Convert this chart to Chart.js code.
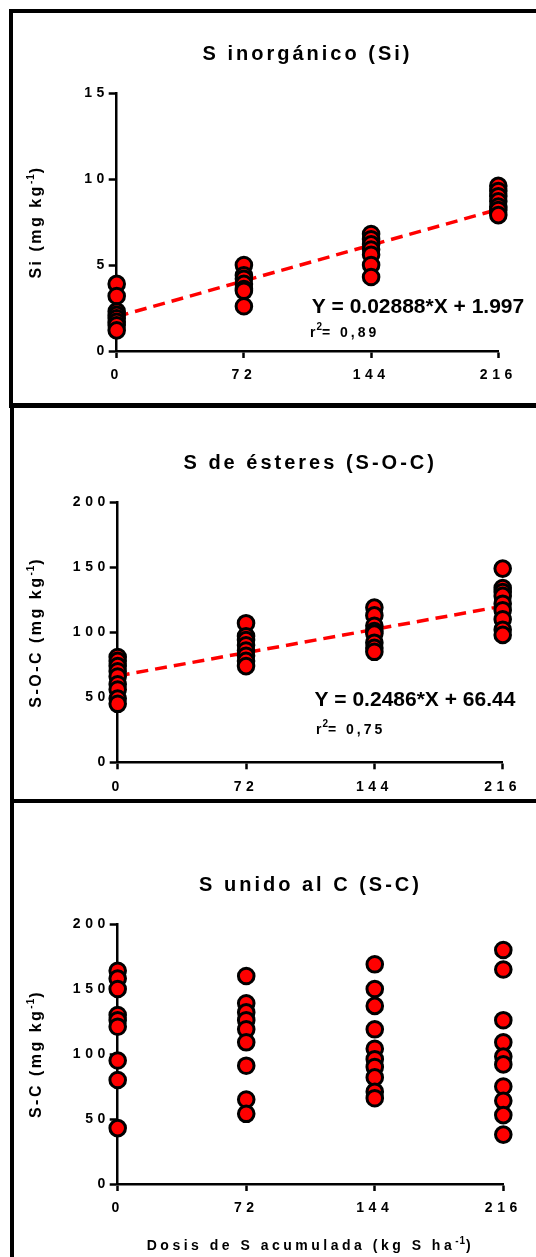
<!DOCTYPE html>
<html><head><meta charset="utf-8">
<script src="https://cdn.jsdelivr.net/npm/chart.js@4.4.0/dist/chart.umd.min.js"></script>
<style>
html,body{margin:0;padding:0;background:#fff;width:536px;height:1257px;overflow:hidden;position:relative}
.box{position:absolute;border:4px solid #000;box-sizing:border-box}
canvas{position:absolute;left:0}
</style></head><body>
<div class="box" style="left:9px;top:9px;width:600px;height:399px"></div>
<div class="box" style="left:10px;top:403px;width:600px;height:400px"></div>
<div class="box" style="left:10px;top:799px;width:600px;height:500px"></div>
<canvas id="c1" width="536" height="403" style="top:0"></canvas>
<canvas id="c2" width="536" height="397" style="top:403px"></canvas>
<canvas id="c3" width="536" height="457" style="top:800px"></canvas>
<script>
// ---- data ----
const doses = [0, 72, 144, 216];
const doseTicks = [0, 72, 144, 216];

const siTicks = [0, 5, 10, 15];
const si_0   = [3.9, 3.2, 2.3, 2.1, 1.9, 1.7, 1.5, 1.2];
const si_72  = [5.0, 4.4, 4.2, 3.9, 3.6, 3.5, 2.6];
const si_144 = [6.8, 6.5, 6.2, 5.9, 5.6, 5.0, 4.3];
const si_216 = [9.6, 9.3, 9.0, 8.7, 8.4, 8.2, 7.9];
const siSlope = 0.02888, siIntercept = 1.997;

const socTicks = [0, 50, 100, 150, 200];
const soc_0   = [81, 78, 74, 70, 66, 60, 56, 49, 45];
const soc_72  = [107, 97, 94, 90, 86, 82, 78, 74];
const soc_144 = [119, 113, 105, 101, 99, 92, 88, 85];
const soc_216 = [149, 134, 131, 128, 122, 117, 110, 102, 98];
const socSlope = 0.2486, socIntercept = 66.44;

const scTicks = [0, 50, 100, 150, 200];
const sc_0   = [164, 158, 150, 130, 126, 121, 95, 80, 43];
const sc_72  = [160, 139, 132, 126, 119, 109, 91, 65, 54];
const sc_144 = [169, 150, 137, 119, 104, 96, 90, 82, 71, 66];
const sc_216 = [180, 165, 126, 109, 98, 92, 75, 64, 53, 38];

// ---- style ----
const FONT = "'Liberation Sans', Arial, Helvetica, sans-serif";
const TICK_LS = 4.5;

function toPoints(groups) {
  const pts = [];
  groups.forEach((vals, i) => vals.forEach(v => pts.push({x: doses[i], y: v})));
  return pts;
}

function drawParts(ctx, parts, x, y, align) {
  let total = 0;
  parts.forEach(p => {
    ctx.font = 'bold ' + p.size + 'px ' + FONT;
    ctx.letterSpacing = (p.ls || 0) + 'px';
    p.w = ctx.measureText(p.t).width;
    total += p.w;
  });
  let cx = align === 'center' ? x - total / 2 : x;
  parts.forEach(p => {
    ctx.font = 'bold ' + p.size + 'px ' + FONT;
    ctx.letterSpacing = (p.ls || 0) + 'px';
    ctx.fillText(p.t, cx, y + (p.dy || 0));
    cx += p.w;
  });
}

function makeChart(id, cfg) {
  const textPlugin = {
    id: 'texts',
    beforeDraw(chart) { chart.ctx.letterSpacing = TICK_LS + 'px'; },
    afterDraw(chart) {
      const ctx = chart.ctx, a = chart.chartArea;
      ctx.save();
      ctx.fillStyle = '#000';
      ctx.textAlign = 'left';
      ctx.textBaseline = 'alphabetic';
      // title
      drawParts(ctx, [{t: cfg.title, size: 20, ls: 3}], (a.left + a.right) / 2, a.top - 33, 'center');
      // y axis title (rotated)
      ctx.save();
      ctx.translate(37, (a.top + a.bottom) / 2);
      ctx.rotate(-Math.PI / 2);
      ctx.textBaseline = 'middle';
      drawParts(ctx, [
        {t: cfg.yTitle, size: 16, ls: 2.5},
        {t: '-1', size: 10, ls: 1, dy: -6},
        {t: ')', size: 16, ls: 2.5}
      ], 0, 0, 'center');
      ctx.restore();
      ctx.textBaseline = 'alphabetic';
      if (cfg.eq) {
        drawParts(ctx, [{t: cfg.eq.text, size: 21, ls: 0}], cfg.eq.x, cfg.eq.y, 'left');
        drawParts(ctx, [
          {t: 'r', size: 14, ls: 1},
          {t: '2', size: 10, ls: 0, dy: -7},
          {t: '= ' + cfg.eq.r2, size: 14, ls: 3}
        ], cfg.eq.rx, cfg.eq.ry, 'left');
      }
      if (cfg.xTitle) {
        drawParts(ctx, [
          {t: 'Dosis de S acumulada (kg S ha', size: 14, ls: 3.5},
          {t: '-1', size: 10, ls: 1, dy: -6},
          {t: ')', size: 14, ls: 3.5}
        ], (a.left + a.right) / 2, cfg.xTitleY, 'center');
      }
      ctx.restore();
      ctx.letterSpacing = TICK_LS + 'px';
    }
  };

  const datasets = [{
    type: 'scatter',
    data: toPoints(cfg.groups),
    pointRadius: 7.8,
    pointBorderWidth: 3,
    pointBackgroundColor: '#ff0000',
    pointBorderColor: '#000000',
    showLine: false,
    clip: false,
    order: 0
  }];
  if (cfg.fit) {
    const xMax = doses[doses.length - 1];
    datasets.push({
      type: 'line',
      data: [{x: 0, y: cfg.fit.b}, {x: xMax, y: cfg.fit.m * xMax + cfg.fit.b}],
      borderColor: '#ff0000',
      borderWidth: 3.5,
      borderDash: [12, 7],
      pointRadius: 0,
      fill: false,
      clip: false,
      order: 1
    });
  }

  return new Chart(document.getElementById(id), {
    type: 'scatter',
    data: {datasets},
    plugins: [textPlugin],
    options: {
      responsive: false,
      animation: false,
      events: [],
      layout: {padding: {left: 0, right: cfg.padRight, top: cfg.padTop, bottom: 0}},
      plugins: {legend: {display: false}, tooltip: {enabled: false}},
      scales: {
        x: {
          type: 'linear', min: 0, max: 216,
          afterBuildTicks: s => { s.ticks = doseTicks.map(v => ({value: v})); },
          afterFit: s => { s.height = cfg.xHeight; },
          grid: {display: true, drawOnChartArea: false, drawTicks: true, tickLength: 7, tickWidth: 2.5, tickColor: '#000'},
          border: {display: true, color: '#000', width: 2.5},
          ticks: {color: '#000', font: {family: FONT, size: 14, weight: 'bold'}, padding: 9, maxRotation: 0, autoSkip: false}
        },
        y: {
          type: 'linear', min: 0, max: cfg.yTicks[cfg.yTicks.length - 1],
          afterBuildTicks: s => { s.ticks = cfg.yTicks.map(v => ({value: v})); },
          afterFit: s => { s.width = cfg.yWidth; },
          grid: {display: true, drawOnChartArea: false, drawTicks: true, tickLength: 8, tickWidth: 2.5, tickColor: '#000'},
          border: {display: true, color: '#000', width: 2.5},
          ticks: {color: '#000', font: {family: FONT, size: 14, weight: 'bold'}, padding: 0, autoSkip: false}
        }
      }
    }
  });
}

makeChart('c1', {
  title: 'S inorgánico (Si)', yTitle: 'Si (mg kg',
  groups: [si_0, si_72, si_144, si_216], yTicks: siTicks,
  fit: {m: siSlope, b: siIntercept},
  eq: {text: 'Y = ' + siSlope + '*X + ' + siIntercept, x: 311.7, y: 313.3, r2: '0,89', rx: 310, ry: 337.3},
  padRight: 37.7, padTop: 93, yWidth: 116.7, xHeight: 52
});
makeChart('c2', {
  title: 'S de ésteres (S-O-C)', yTitle: 'S-O-C (mg kg',
  groups: [soc_0, soc_72, soc_144, soc_216], yTicks: socTicks,
  fit: {m: socSlope, b: socIntercept},
  eq: {text: 'Y = ' + socSlope + '*X + ' + socIntercept, x: 314.5, y: 303, r2: '0,75', rx: 316, ry: 331.3},
  padRight: 33.3, padTop: 99.3, yWidth: 117.7, xHeight: 37.7
});
makeChart('c3', {
  title: 'S unido al C (S-C)', yTitle: 'S-C (mg kg',
  groups: [sc_0, sc_72, sc_144, sc_216], yTicks: scTicks,
  xTitle: true, xTitleY: 450,
  padRight: 32.7, padTop: 124, yWidth: 117.7, xHeight: 73
});
</script>
</body></html>
